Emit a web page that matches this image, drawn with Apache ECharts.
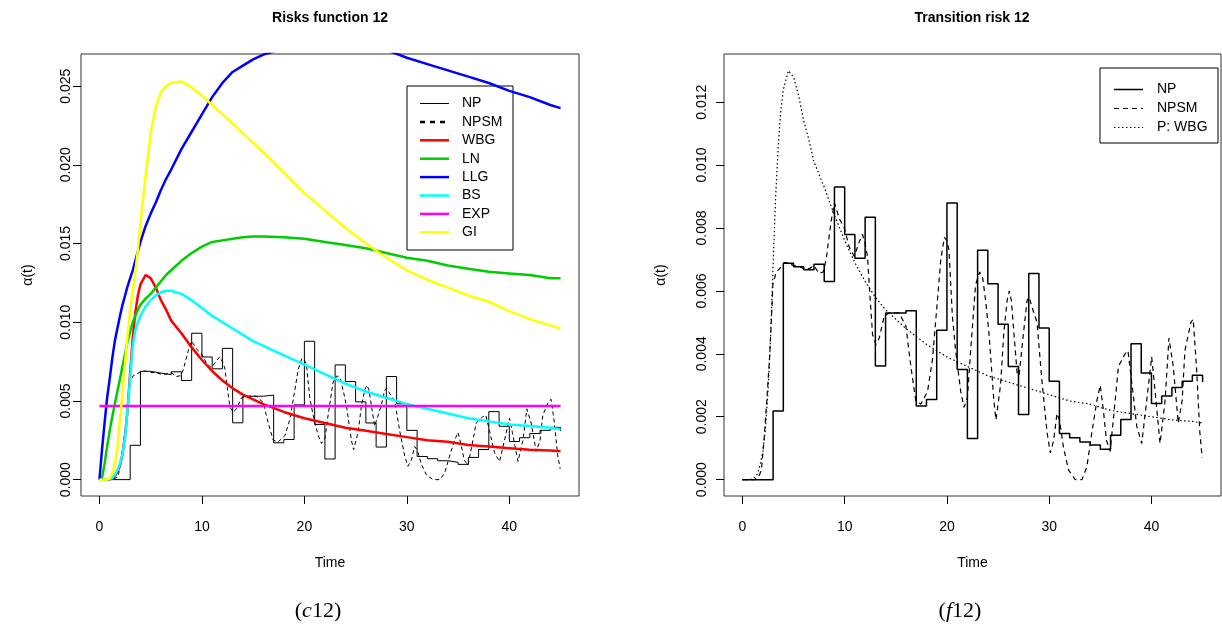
<!DOCTYPE html>
<html>
<head>
<meta charset="utf-8">
<script src="https://cdn.jsdelivr.net/npm/echarts@6/dist/echarts.min.js"></script>
<style>
html,body{margin:0;padding:0;background:#fff;}
#chart{width:1222px;height:632px;}
</style>
</head>
<body>
<div id="chart"></div>
<script>
// ---- Data ----
// Nonparametric step estimate: value on [t, t+1)
const npTime = [0,1,2,3,4,5,6,7,8,9,10,11,12,13,14,15,16,17,18,19,20,21,22,23,24,25,26,27,28,29,30,31,32,33,34,35,36,37,38,39,40,41,42,43,44,45];
const npValue = [0,0,0,0.00218,0.00688,0.00677,0.00667,0.00685,0.0063,0.0093,0.00779,0.00704,0.00834,0.00361,0.0053,0.0053,0.00537,0.00234,0.00255,0.00475,0.00879,0.0035,0.00131,0.00729,0.00623,0.00494,0.0036,0.00207,0.00655,0.00482,0.00313,0.00147,0.00133,0.0012,0.0011,0.00097,0.00141,0.00191,0.00432,0.00339,0.00242,0.00266,0.00293,0.00313,0.00332,0.0031];

// Smoothed nonparametric estimate
const npsmTime = [0,1.0,1.2,1.6,1.85,2.1,2.34,2.66,2.85,2.98,3.3,3.63,4.1,4.5,5,5.5,6,6.5,7,7.5,7.9,8.19,8.67,9.0,9.47,9.96,10.44,10.93,11.42,11.74,12.0,12.23,12.4,12.73,13.06,13.38,13.87,14.36,15.3,15.98,16.47,16.96,17.45,18.1,18.58,19.07,19.4,19.75,20.0,20.2,20.53,20.85,21.35,21.67,22,22.32,22.8,23.2,23.5,23.78,24.1,24.59,24.8,25.24,25.57,25.89,26.1,26.3,26.54,26.86,27.05,27.5,27.84,28.05,28.3,28.81,29.3,29.79,30.11,30.44,30.76,31.0,31.41,31.9,32.55,33.2,33.68,34.17,34.66,34.99,35.3,35.6,35.96,36.3,36.77,37.42,37.7,38.07,38.56,39.05,39.53,40.02,40.3,40.84,41.33,41.71,42.13,42.62,43.0,43.27,43.86,44.08,44.4,44.73,44.96];
const npsmValue = [0,0,0,0.0001,0.0003,0.0012,0.0023,0.0039,0.0052,0.0062,0.0066,0.0067,0.0069,0.0069,0.0068,0.0068,0.0067,0.0067,0.0068,0.00655,0.0066,0.007,0.0082,0.0088,0.0083,0.008,0.0074,0.0071,0.00755,0.0078,0.0075,0.0071,0.0062,0.0046,0.0043,0.0045,0.0052,0.0053,0.0053,0.0049,0.0036,0.0025,0.0024,0.0028,0.0038,0.0057,0.007,0.0077,0.0076,0.0073,0.0052,0.0041,0.0028,0.0023,0.0026,0.0041,0.0062,0.0066,0.0064,0.0057,0.0047,0.0025,0.0019,0.003,0.0047,0.0057,0.006,0.0057,0.0047,0.0034,0.0033,0.0047,0.0057,0.0058,0.0055,0.005,0.0031,0.0015,0.00085,0.00125,0.0021,0.0019,0.001,0.0003,0,0,0.0004,0.0015,0.0025,0.003,0.0022,0.00125,0.0009,0.002,0.0036,0.004,0.0041,0.0031,0.0017,0.00115,0.0025,0.0039,0.003,0.00115,0.0025,0.0045,0.0036,0.0018,0.0025,0.0041,0.005,0.0051,0.0036,0.0015,0.0007];

// Parametric hazard curves on a shared time grid
const curveTime = [0,0.25,0.5,0.75,1,1.25,1.5,1.75,2,2.25,2.5,2.75,3,3.25,3.5,3.75,4,4.5,5,5.5,6,6.5,7,8,9,10,11,12,13,14,15,16,18,20,22,24,26,28,30,32,34,36,38,40,42,44,45];
const wbgValue = [0,0,0,0,0.00002,0.00008,0.0002,0.0005,0.0009,0.0016,0.0028,0.0045,0.0068,0.009,0.0106,0.0117,0.0124,0.013,0.0128,0.0122,0.0114,0.0108,0.0101,0.0093,0.0084,0.0076,0.0069,0.0063,0.0058,0.0054,0.0051,0.0048,0.0043,0.0039,0.0036,0.0033,0.0031,0.0029,0.0027,0.0025,0.0024,0.0022,0.0021,0.002,0.0019,0.00185,0.0018];
const lnValue = [0,0.0001,0.001,0.0021,0.0031,0.004,0.0048,0.0056,0.0064,0.0072,0.008,0.0088,0.0094,0.01,0.0104,0.0108,0.0111,0.0115,0.0118,0.0122,0.0126,0.013,0.0133,0.0139,0.0144,0.0148,0.0151,0.0152,0.0153,0.0154,0.01545,0.01545,0.0154,0.0153,0.0151,0.0149,0.0147,0.0144,0.0141,0.0139,0.0136,0.0134,0.0132,0.0131,0.013,0.0128,0.0128];
const llgValue = [0,0.0019,0.0036,0.0052,0.0064,0.0077,0.0088,0.0096,0.0104,0.0111,0.0117,0.0123,0.0128,0.0133,0.0139,0.0145,0.0151,0.0161,0.0169,0.0176,0.0184,0.0191,0.0197,0.021,0.0221,0.0232,0.0243,0.0252,0.0259,0.0263,0.0267,0.027,0.0274,0.0277,0.0278,0.0278,0.0276,0.0273,0.0268,0.0264,0.026,0.0256,0.0252,0.0247,0.0243,0.0238,0.0236];
const bsValue = [0,0,0,0,0.00003,0.0001,0.0003,0.0006,0.001,0.0016,0.0027,0.0045,0.0065,0.0085,0.0095,0.01,0.0104,0.011,0.0114,0.0117,0.0119,0.012,0.012,0.0118,0.0114,0.0109,0.0104,0.01,0.0096,0.0092,0.0088,0.0085,0.0079,0.0073,0.0067,0.0061,0.0056,0.0052,0.0048,0.0045,0.0042,0.0039,0.0037,0.0035,0.0034,0.0033,0.0032];
const giValue = [0,0,0,0.00002,0.0001,0.0004,0.001,0.002,0.0038,0.0055,0.0074,0.0092,0.0108,0.012,0.0132,0.0146,0.0163,0.0193,0.022,0.0237,0.0246,0.025,0.0252,0.0253,0.0249,0.0244,0.0238,0.0232,0.0226,0.022,0.0214,0.0208,0.0195,0.0182,0.0171,0.016,0.015,0.0141,0.0133,0.0127,0.0122,0.0117,0.0113,0.0107,0.0102,0.0098,0.0096];
const expTime = [0,45];
const expValue = [0.00468,0.00468];

// Axis ticks
const xTicks = [0,10,20,30,40];
const yTicksLeft = [0,0.005,0.01,0.015,0.02,0.025];
const yTicksRight = [0,0.002,0.004,0.006,0.008,0.01,0.012];

// Legend entries
const leftLegendNames = ['NP','NPSM','WBG','LN','LLG','BS','EXP','GI'];
const rightLegendNames = ['NP','NPSM','P: WBG'];

// ---- Build chart ----
const pairs = (xs, ys) => xs.map((x, i) => [x, ys[i]]);
const FONT = "'Liberation Sans', Arial, Helvetica, sans-serif";
const SERIF = "'Liberation Serif', 'DejaVu Serif', serif";
const chart = echarts.init(document.getElementById('chart'), null, {renderer: 'canvas'});

const styles = {
  'NP': {color: '#000', width: 1, dash: null},
  'NPSM': {color: '#000', width: 1, dash: [4, 3]},
  'WBG': {color: '#ff0000', width: 2.5, dash: null},
  'LN': {color: '#00cd00', width: 2.5, dash: null},
  'LLG': {color: '#0000ff', width: 2.5, dash: null},
  'BS': {color: '#00ffff', width: 2.5, dash: null},
  'EXP': {color: '#ff00ff', width: 2.5, dash: null},
  'GI': {color: '#ffff00', width: 2.5, dash: null}
};
const rightStyles = {
  'NP': {color: '#000', width: 1.5, dash: null},
  'NPSM': {color: '#000', width: 1.2, dash: [5, 4]},
  'P: WBG': {color: '#000', width: 1.2, dash: [1.5, 2.5]}
};

function xAxisDef(gridIndex) {
  return {
    type: 'value', gridIndex, min: -1.8, max: 46.8,
    axisLine: {show: false, onZero: false},
    splitLine: {show: false},
    axisTick: {show: true, customValues: xTicks, length: 8, lineStyle: {color: '#000', width: 1}},
    axisLabel: {customValues: xTicks, color: '#000', fontSize: 14, fontFamily: FONT, margin: 24},
    name: 'Time', nameLocation: 'middle', nameGap: 60,
    nameTextStyle: {color: '#000', fontSize: 14, fontFamily: FONT}
  };
}
function yAxisDef(gridIndex, min, max, ticks, labelMargin, nameGap) {
  return {
    type: 'value', gridIndex, min, max,
    axisLine: {show: false, onZero: false},
    splitLine: {show: false},
    axisTick: {show: true, customValues: ticks, length: 8, lineStyle: {color: '#000', width: 1}},
    axisLabel: {customValues: ticks, color: '#000', fontSize: 14, fontFamily: FONT, rotate: 90, margin: labelMargin,
      formatter: v => v.toFixed(3)},
    name: 'α(t)', nameLocation: 'middle', nameRotate: 90, nameGap,
    nameTextStyle: {color: '#000', fontSize: 14, fontFamily: FONT}
  };
}

function legendGraphic(names, st, box, lineX0, lineX1, textX, rowY0, rowStep, legendLineOverride) {
  const children = [{
    type: 'rect', shape: {x: box[0], y: box[1], width: box[2], height: box[3]},
    style: {fill: '#fff', stroke: '#000', lineWidth: 1}
  }];
  names.forEach((n, i) => {
    const y = rowY0 + i * rowStep;
    const s = Object.assign({}, st[n], (legendLineOverride || {})[n] || {});
    children.push({
      type: 'line', shape: {x1: lineX0, y1: y, x2: lineX1, y2: y},
      style: {stroke: s.color, lineWidth: s.width, lineDash: s.dash || null}
    });
    children.push({
      type: 'text', x: textX, y: y,
      style: {text: n, fill: '#000', font: '14px ' + FONT, textVerticalAlign: 'middle', verticalAlign: 'middle'}
    });
  });
  return {type: 'group', z: 100, children};
}

const base = {type: 'line', symbol: 'none', showSymbol: false, animation: false};
function ser(name, xi, xs, ys, st, extra) {
  return Object.assign({}, base, {
    name, xAxisIndex: xi, yAxisIndex: xi, data: pairs(xs, ys),
    lineStyle: {color: st.color, width: st.width, type: st.dash || 'solid'},
    itemStyle: {color: st.color}
  }, extra || {});
}

const option = {
  backgroundColor: '#fff',
  animation: false,
  title: [
    {text: 'Risks function 12', left: 330, top: 11, textAlign: 'center', padding: 0,
     textStyle: {fontSize: 14, fontWeight: 'bold', color: '#000', fontFamily: FONT}},
    {text: 'Transition risk 12', left: 972, top: 11, textAlign: 'center', padding: 0,
     textStyle: {fontSize: 14, fontWeight: 'bold', color: '#000', fontFamily: FONT}},
    {text: '{p|(}{i|c}{p|12)}', left: 318, top: 600, textAlign: 'center', padding: 0,
     textStyle: {fontWeight: 'normal', rich: {p: {fontSize: 22, fontWeight: 'normal', fontFamily: SERIF, color: '#000'},
                        i: {fontSize: 22, fontWeight: 'normal', fontStyle: 'italic', fontFamily: SERIF, color: '#000'}}}},
    {text: '{p|(}{i|f}{p|12)}', left: 960, top: 600, textAlign: 'center', padding: 0,
     textStyle: {fontWeight: 'normal', rich: {p: {fontSize: 22, fontWeight: 'normal', fontFamily: SERIF, color: '#000'},
                        i: {fontSize: 22, fontWeight: 'normal', fontStyle: 'italic', fontFamily: SERIF, color: '#000'}}}}
  ],
  grid: [
    {left: 81, top: 54, width: 498, height: 442, show: true, borderColor: '#333', borderWidth: 1, backgroundColor: 'transparent'},
    {left: 724, top: 54, width: 497, height: 442, show: true, borderColor: '#333', borderWidth: 1, backgroundColor: 'transparent'}
  ],
  xAxis: [xAxisDef(0), xAxisDef(1)],
  yAxis: [
    yAxisDef(0, -0.00104, 0.02704, yTicksLeft, 8, 46),
    yAxisDef(1, -0.00052, 0.01353, yTicksRight, 15, 56)
  ],
  graphic: [
    legendGraphic(leftLegendNames, styles, [407, 86, 106, 164], 420, 449, 462, 103.5, 18.4,
      {'NPSM': {width: 2.5, dash: [5, 5]}}),
    legendGraphic(rightLegendNames, rightStyles, [1100, 68, 118, 75], 1114, 1143, 1157, 89.5, 19, null)
  ],
  series: [
    // left panel
    ser('WBG', 0, curveTime, wbgValue, styles['WBG'], {z: 4}),
    ser('LN', 0, curveTime, lnValue, styles['LN'], {z: 4}),
    ser('LLG', 0, curveTime, llgValue, styles['LLG'], {z: 4}),
    ser('BS', 0, curveTime, bsValue, styles['BS'], {z: 4}),
    ser('EXP', 0, expTime, expValue, styles['EXP'], {z: 4}),
    ser('GI', 0, curveTime, giValue, styles['GI'], {z: 4}),
    ser('NP', 0, npTime, npValue, styles['NP'], {z: 3, step: 'end'}),
    ser('NPSM', 0, npsmTime, npsmValue, styles['NPSM'], {z: 3}),
    // right panel
    ser('NP (right)', 1, npTime, npValue, rightStyles['NP'], {step: 'end'}),
    ser('NPSM (right)', 1, npsmTime, npsmValue, rightStyles['NPSM']),
    ser('P: WBG', 1, curveTime, wbgValue, rightStyles['P: WBG'])
  ]
};
chart.setOption(option);
</script>
</body>
</html>
